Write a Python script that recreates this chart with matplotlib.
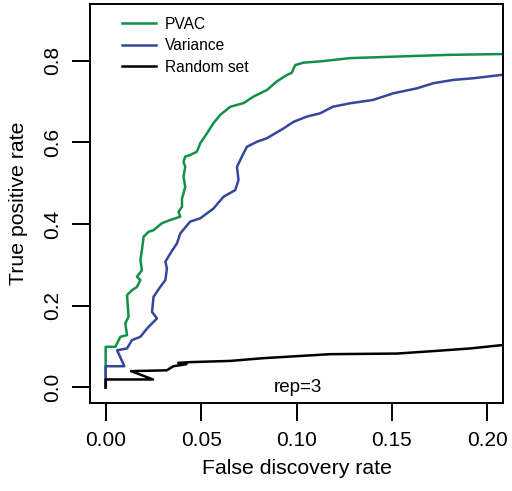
import matplotlib
matplotlib.use("Agg")
import matplotlib.pyplot as plt

plt.rcParams['font.family'] = ['Liberation Sans', 'DejaVu Sans']

DPI = 100

# PVAC curve (false discovery rate, true positive rate)
pvac_fdr = [0.0, 0.0, 0.0051, 0.0077, 0.0112, 0.0103, 0.012, 0.0112, 0.0138, 0.0164,
            0.0182, 0.0164, 0.019, 0.0182, 0.019, 0.0199, 0.0225, 0.0251, 0.0295,
            0.0339, 0.0391, 0.0382, 0.040, 0.040, 0.0408, 0.0417, 0.0408, 0.0417,
            0.0408, 0.0417, 0.0417, 0.0443, 0.0478, 0.0496, 0.0531, 0.0565, 0.060,
            0.0653, 0.0723, 0.0775, 0.0845, 0.0897, 0.095, 0.0975, 0.0993, 0.1037,
            0.1124, 0.128, 0.1534, 0.1796, 0.2075, 0.215]
pvac_tpr = [0.0, 0.0995, 0.0995, 0.124, 0.128, 0.157, 0.173, 0.226, 0.238, 0.246,
            0.263, 0.271, 0.287, 0.312, 0.336, 0.369, 0.381, 0.385, 0.402,
            0.410, 0.418, 0.430, 0.442, 0.463, 0.475, 0.491, 0.516, 0.540,
            0.552, 0.565, 0.565, 0.569, 0.577, 0.598, 0.622, 0.647, 0.667,
            0.687, 0.696, 0.712, 0.728, 0.749, 0.765, 0.770, 0.789, 0.795,
            0.798, 0.806, 0.810, 0.814, 0.816, 0.817]

# Variance curve
var_fdr = [0.0, 0.0, 0.0098, 0.006, 0.0112, 0.0138, 0.0182, 0.0217, 0.0269, 0.0243,
           0.0251, 0.0286, 0.0313, 0.0321, 0.0313, 0.0339, 0.0374, 0.0391, 0.0443,
           0.0496, 0.0565, 0.0618, 0.0679, 0.0696, 0.0688, 0.0714, 0.074, 0.0793,
           0.0845, 0.0932, 0.0984, 0.1054, 0.1124, 0.119, 0.128, 0.140, 0.1508,
           0.163, 0.1717, 0.182, 0.1927, 0.2075, 0.215]
var_tpr = [0.0, 0.052, 0.052, 0.091, 0.0955, 0.116, 0.124, 0.1445, 0.169, 0.185,
           0.222, 0.246, 0.263, 0.291, 0.308, 0.328, 0.353, 0.377, 0.406,
           0.414, 0.438, 0.467, 0.483, 0.508, 0.540, 0.565, 0.589, 0.6015,
           0.610, 0.634, 0.650, 0.663, 0.671, 0.687, 0.6955, 0.7036, 0.720,
           0.732, 0.7446, 0.7526, 0.7568, 0.765, 0.767]

# Random set curve
rand_fdr = [0.0, 0.0, 0.0248, 0.0133, 0.032, 0.0355, 0.0423, 0.038, 0.044, 0.0653,
            0.0826, 0.1176, 0.1526, 0.1735, 0.191, 0.2075, 0.215]
rand_tpr = [0.0, 0.0196, 0.0196, 0.040, 0.042, 0.052, 0.057, 0.060, 0.062, 0.065,
            0.0717, 0.0815, 0.083, 0.0896, 0.0955, 0.1036, 0.105]

x_ticks = [0.0, 0.05, 0.10, 0.15, 0.20]
x_labels = ['0.00', '0.05', '0.10', '0.15', '0.20']
y_ticks = [0.0, 0.2, 0.4, 0.6, 0.8]
y_labels = ['0.0', '0.2', '0.4', '0.6', '0.8']

green = '#139048'
blue = '#34479a'

fig = plt.figure(figsize=(512/DPI, 491/DPI), dpi=DPI)
ax = fig.add_axes([90/512, 1 - 403/491, 413/512, 399/491])

ax.plot(pvac_fdr, pvac_tpr, color=green, lw=1.8, label='PVAC')
ax.plot(var_fdr, var_tpr, color=blue, lw=1.8, label='Variance')
ax.plot(rand_fdr, rand_tpr, color='black', lw=1.8, label='Random set')

ax.set_xlim(-0.0082, 0.2082)
ax.set_ylim(-0.038, 0.9385)

ax.set_xticks(x_ticks)
ax.set_xticklabels(x_labels)
ax.set_yticks(y_ticks)
ax.set_yticklabels(y_labels, rotation=90, va='center')
ax.tick_params(length=13, width=1.4, labelsize=15, pad=7)
for s in ax.spines.values():
    s.set_linewidth(1.4)

ax.set_xlabel('False discovery rate', fontsize=15.3, labelpad=7)
ax.set_ylabel('True positive rate', fontsize=15.3, labelpad=11)

ax.text(0.1009, 0.0, 'rep=3', fontsize=13.5, ha='center', va='center')

ax.legend(loc='upper left', bbox_to_anchor=(0.238, 0.966), bbox_transform=fig.transFigure,
          frameon=False, fontsize=11.2, handlelength=2.2, handletextpad=0.55,
          borderpad=0, borderaxespad=0, labelspacing=0.42)

plt.savefig('out.png', dpi=DPI)
